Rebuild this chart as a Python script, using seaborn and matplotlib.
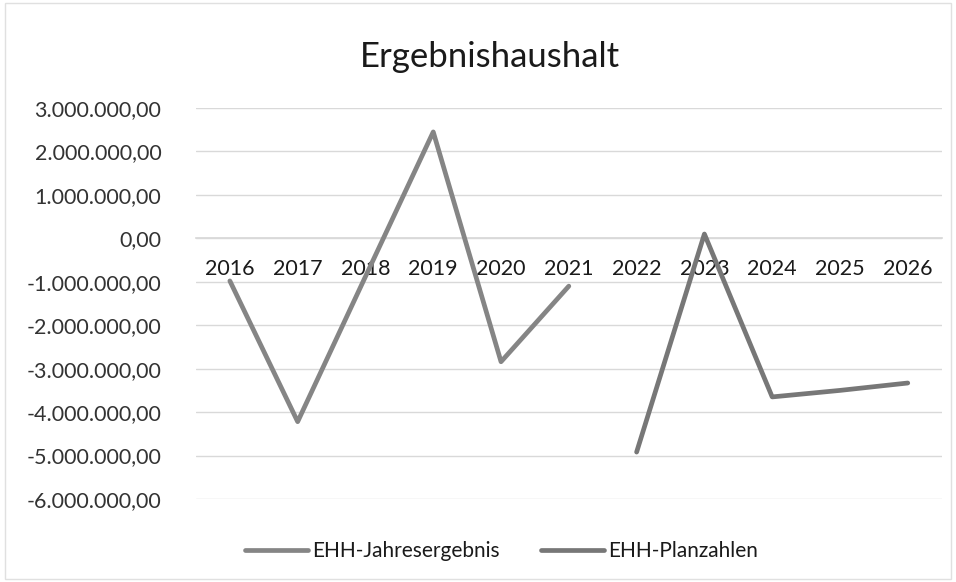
import numpy as np
import pandas as pd
import seaborn as sns
import matplotlib.pyplot as plt
from matplotlib.ticker import FuncFormatter

# Data
years = [2016, 2017, 2018, 2019, 2020, 2021, 2022, 2023, 2024, 2025, 2026]
jahresergebnis = [-980000, -4220000, -880000, 2450000, -2840000, -1100000,
                  np.nan, np.nan, np.nan, np.nan, np.nan]
planzahlen = [np.nan, np.nan, np.nan, np.nan, np.nan, np.nan,
              -4920000, 100000, -3650000, -3500000, -3330000]
y_ticks = [3e6, 2e6, 1e6, 0, -1e6, -2e6, -3e6, -4e6, -5e6, -6e6]

df = pd.DataFrame({"Jahr": years,
                   "EHH-Jahresergebnis": jahresergebnis,
                   "EHH-Planzahlen": planzahlen})

sns.set_theme(style="white")
plt.rcParams['font.family'] = ['Lato', 'DejaVu Sans']

fig = plt.figure(figsize=(9.56, 5.82), dpi=100)
ax = fig.add_axes([0.205, 0.1426, 0.78, 0.6718])

sns.lineplot(data=df, x="Jahr", y="EHH-Jahresergebnis", ax=ax, color="#858585",
             linewidth=3.4, label="EHH-Jahresergebnis", zorder=3)
sns.lineplot(data=df, x="Jahr", y="EHH-Planzahlen", ax=ax, color="#777777",
             linewidth=3.4, label="EHH-Planzahlen", zorder=3)


def de_fmt(v, pos):
    s = f"{v:,.2f}"
    return s.replace(",", "X").replace(".", ",").replace("X", ".")


ax.set_ylim(-6e6, 3e6)
ax.set_xlim(2015.5, 2026.5)
ax.set_yticks(y_ticks)
ax.yaxis.set_major_formatter(FuncFormatter(de_fmt))
ax.set_xticks(years)
ax.set_xticklabels([str(y) for y in years])
ax.grid(axis="y", color="#d9d9d9", linewidth=1)
ax.grid(axis="x", visible=False)
for s in ["top", "right", "left"]:
    ax.spines[s].set_visible(False)
ax.spines["bottom"].set_position(("data", 0))
ax.spines["bottom"].set_color("#d9d9d9")
ax.tick_params(axis="x", length=0, pad=15, labelsize=15.5, labelcolor="#1a1a1a")
ax.tick_params(axis="y", length=0, pad=25, labelsize=15.5, labelcolor="#333333")
ax.set_xlabel("")
ax.set_ylabel("")

fig.text(0.513, 0.902, "Ergebnishaushalt", ha="center", va="center",
         fontsize=25, color="#1a1a1a")

ax.legend(loc="upper center", bbox_to_anchor=(0.41, -0.06), ncol=2, frameon=False,
          fontsize=15, handlelength=3.0, handletextpad=0.2, columnspacing=2.0,
          labelcolor="#1a1a1a")

fig.patches.append(plt.Rectangle((0.005, 0.005), 0.99, 0.99, transform=fig.transFigure,
                                 fill=False, edgecolor="#e0e0e0", linewidth=1))
fig.savefig("out.png", dpi=100)
